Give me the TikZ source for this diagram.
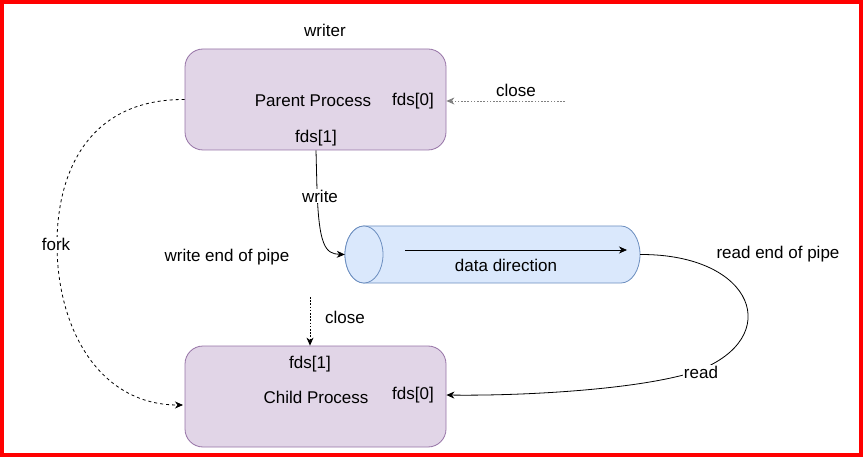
\documentclass[tikz,border=0pt]{standalone}
\usepackage{fontspec}
\setmainfont{Liberation Sans}
\usetikzlibrary{arrows.meta}
\definecolor{procfill}{HTML}{E1D5E7}
\definecolor{procdraw}{HTML}{9673A6}
\definecolor{pipefill}{HTML}{DAE8FC}
\definecolor{pipedraw}{HTML}{6C8EBF}

\begin{document}
\begin{tikzpicture}[
    x=1pt, y=-1pt,
    process/.style={rectangle, draw=procdraw, fill=procfill, rounded corners=18pt, minimum width=261pt, minimum height=101pt, line width=0.8pt},
    pipebox/.style={rectangle, inner sep=0pt, minimum width=295pt, minimum height=57pt},
    pipeline/.style={draw=pipedraw, fill=pipefill, line width=0.8pt},
    lbl/.style={inner sep=1pt},
    onlbl/.style={inner sep=1pt, fill=white},
    arrow/.style={line width=0.8pt, -{Stealth[length=8pt, width=7pt, inset=2.5pt]}},
    dotarrow/.style={arrow, dash pattern=on 1.6pt off 1.6pt},
    dasharrow/.style={arrow, dash pattern=on 3pt off 3pt},
    every node/.style={font=\fontsize{17}{20}\selectfont}
]
\useasboundingbox (0,0) rectangle (865,465);
\draw[red, line width=4pt] (2,2) rectangle (861,455);

% Nodes
\node[process] (parent) at (315.5,99.5) {};
\node[process] (child) at (315.5,396.5) {};
\node[pipebox] (pipe) at (492.5,254.5) {};
% pipe drawn as a lying cylinder
\draw[pipeline] (364,226) -- (621,226) arc[start angle=-90, end angle=90, x radius=19, y radius=28.5]
    -- (364,283) arc[start angle=90, end angle=270, x radius=19, y radius=28.5] -- cycle;
\draw[pipeline] (364,254.5) ellipse [x radius=19, y radius=28.5];

\node[lbl] (writer) at (325,30) {writer};
\node[lbl] (ptext) at (313,101) {Parent Process};
\node[lbl] (pfds0) at (413,101) {fds[0]};
\node[lbl] (pfds1) at (316,138) {fds[1]};
\node[lbl] (pclose) at (516,90) {close};
\node[lbl] (wend) at (227,257) {write end of pipe};
\node[lbl] (ddir) at (506,265) {data direction};
\node[lbl] (rend) at (778,254) {read end of pipe};
\node[lbl] (cclose) at (345,317) {close};
\node[lbl] (cfds1) at (310,364) {fds[1]};
\node[lbl] (ctext) at (316,397) {Child Process};
\node[lbl] (cfds0) at (413,395) {fds[0]};

\coordinate (pcstart) at (565,101);
\coordinate (ccstart) at (310,297);
\coordinate (forkin) at (183,405);
\coordinate (ddA) at (405,250);
\coordinate (ddB) at (627,250);

% Arrows
\draw[dotarrow, gray] (pcstart) -- (parent.east |- pcstart);
\draw[dotarrow] (ccstart) -- (ccstart |- child.north);
\draw[arrow] (ddA) -- (ddB);
\draw[arrow] (pfds1 |- parent.south) -- (317,190) .. controls (319,245) and (325,254) .. (pipe.west);
\node[onlbl] (write) at (320,196) {write};
\draw[dasharrow] (parent.west) .. controls (90,99) and (57,170) .. (57,244) .. controls (57,330) and (100,405) .. (forkin);
\node[onlbl] (fork) at (56,244) {fork};
\draw[arrow] (pipe.east) .. controls (755,254) and (785,338) .. (697,371) .. controls (640,390) and (520,396) .. (child.east |- cfds0);
\node[onlbl] (read) at (701,372) {read};

\end{tikzpicture}
\end{document}
